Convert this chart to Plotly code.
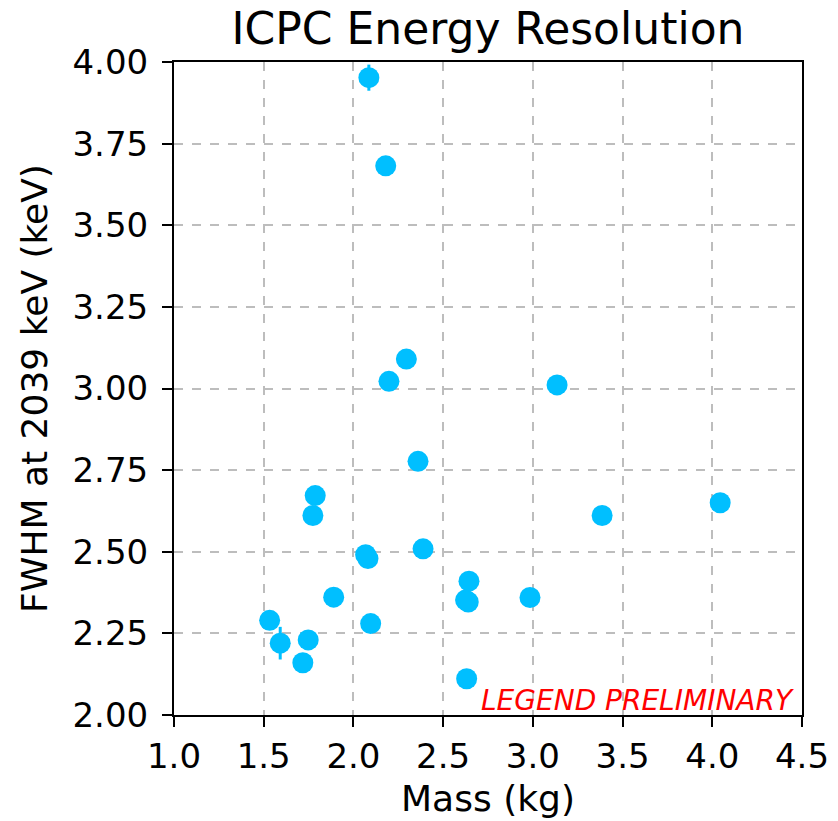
import plotly.graph_objects as go

# Detector mass (kg) and FWHM at Qbb (keV) for each ICPC detector
mass_kg = [2.086, 2.180, 2.295, 2.198, 3.135, 2.360, 1.787, 1.774, 3.386, 4.044,
           2.068, 2.081, 2.388, 2.644, 2.625, 2.640, 1.890, 2.984, 1.533, 1.592,
           1.748, 2.096, 1.718, 2.631]
fwhm_kev = [3.952, 3.682, 3.090, 3.022, 3.011, 2.777, 2.672, 2.611, 2.611, 2.650,
            2.491, 2.479, 2.509, 2.410, 2.352, 2.346, 2.361, 2.360, 2.290, 2.220,
            2.230, 2.280, 2.160, 2.111]
fwhm_err = [0.040, 0.015, 0.015, 0.015, 0.015, 0.015, 0.015, 0.015, 0.015, 0.015,
            0.015, 0.015, 0.015, 0.015, 0.015, 0.015, 0.015, 0.015, 0.015, 0.050,
            0.015, 0.015, 0.015, 0.015]

x_ticks = [1.0, 1.5, 2.0, 2.5, 3.0, 3.5, 4.0, 4.5]
y_ticks = [2.00, 2.25, 2.50, 2.75, 3.00, 3.25, 3.50, 3.75, 4.00]

FONT = "DejaVu Sans"
BLUE = "#00BFFF"

fig = go.Figure()
fig.add_trace(go.Scatter(
    x=mass_kg, y=fwhm_kev, mode="markers",
    marker=dict(color=BLUE, size=21, line=dict(width=0)),
    error_y=dict(type="data", array=fwhm_err, visible=True,
                 color=BLUE, thickness=3, width=0),
    showlegend=False, hoverinfo="x+y",
))

axis_common = dict(
    showline=True, linecolor="black", linewidth=2, mirror=True,
    ticks="outside", ticklen=10, tickwidth=2, tickcolor="black",
    showgrid=True, gridcolor="#bdbdbd", gridwidth=1.5, griddash="dash",
    zeroline=False, automargin=False,
    tickfont=dict(family=FONT, size=34, color="black"),
)

fig.update_xaxes(
    range=[1.0, 4.5], tickvals=x_ticks,
    ticktext=[f"{v:.1f}" for v in x_ticks],
    title=dict(text="Mass (kg)", font=dict(family=FONT, size=36, color="black"),
               standoff=11),
    **axis_common,
)
fig.update_yaxes(
    range=[2.0, 4.0], tickvals=y_ticks,
    ticktext=[f"{v:.2f}" for v in y_ticks],
    ticklabelstandoff=7,
    title=dict(text="FWHM at 2039 keV (keV)",
               font=dict(family=FONT, size=36, color="black"), standoff=14),
    **axis_common,
)

fig.add_annotation(
    text="<i>LEGEND PRELIMINARY</i>", xref="x", yref="y",
    x=4.45, y=2.02, xanchor="right", yanchor="bottom", showarrow=False,
    xshift=3, yshift=-11,
    font=dict(family=FONT, size=28, color="red"),
)

fig.update_layout(
    width=838, height=821,
    margin=dict(l=174, r=36, t=62, b=106),
    paper_bgcolor="white", plot_bgcolor="white",
    title=dict(text="ICPC Energy Resolution", x=0.5, xref="paper",
               y=1, yref="paper", yanchor="bottom", pad=dict(b=18),
               font=dict(family=FONT, size=44, color="black")),
)

fig.write_html("out.html")
